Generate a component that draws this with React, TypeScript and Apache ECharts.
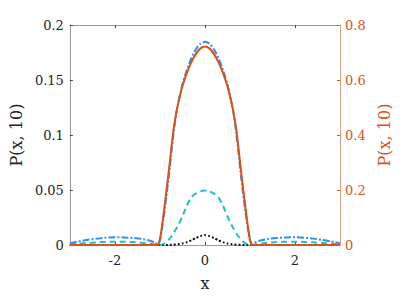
import React, { useEffect, useRef } from "react";
import * as echarts from "echarts";

const xs = [-3, -2.8, -2.6, -2.4, -2.2, -2, -1.8, -1.6, -1.4, -1.2, -1.1, -1.05, -1, -0.95, -0.9, -0.85, -0.8, -0.75, -0.7, -0.65, -0.6, -0.5, -0.4, -0.3, -0.2, -0.1, 0,
  0.1, 0.2, 0.3, 0.4, 0.5, 0.6, 0.65, 0.7, 0.75, 0.8, 0.85, 0.9, 0.95, 1, 1.05, 1.1, 1.2, 1.4, 1.6, 1.8, 2, 2.2, 2.4, 2.6, 2.8, 3];

// right axis, orange solid
const orangeVals = [0, 0, 0, 0, 0, 0, 0, 0, 0, 0, 0, 0, 0.02, 0.072, 0.137, 0.203, 0.272, 0.345, 0.415, 0.468, 0.51, 0.577, 0.626, 0.665, 0.695, 0.715, 0.722,
  0.715, 0.695, 0.665, 0.626, 0.577, 0.51, 0.468, 0.415, 0.345, 0.272, 0.203, 0.137, 0.072, 0.02, 0, 0, 0, 0, 0, 0, 0, 0, 0, 0, 0, 0];

// left axis, blue dash-dot
const blueVals = [0.0016, 0.0033, 0.0047, 0.0058, 0.0066, 0.007, 0.0069, 0.0064, 0.0055, 0.0037, 0.002, 0.0008, 0.004, 0.016, 0.03, 0.046, 0.063, 0.082, 0.101, 0.116, 0.128, 0.146, 0.1595, 0.17, 0.178, 0.183, 0.1847,
  0.183, 0.178, 0.17, 0.1595, 0.146, 0.128, 0.116, 0.101, 0.082, 0.063, 0.046, 0.03, 0.016, 0.004, 0.0008, 0.002, 0.0037, 0.0055, 0.0064, 0.0069, 0.007, 0.0066, 0.0058, 0.0047, 0.0033, 0.0016];

// left axis, cyan dashed
const cyanVals = [0.0006, 0.0012, 0.0018, 0.0024, 0.0028, 0.003, 0.003, 0.0027, 0.002, 0.001, 0.0005, 0.0003, 0.0002, 0.0006, 0.0015, 0.003, 0.005, 0.0075, 0.0105, 0.014, 0.0175, 0.026, 0.036, 0.0435, 0.0468, 0.0488, 0.0495,
  0.0488, 0.0468, 0.0435, 0.036, 0.026, 0.0175, 0.014, 0.0105, 0.0075, 0.005, 0.003, 0.0015, 0.0006, 0.0002, 0.0003, 0.0005, 0.001, 0.002, 0.0027, 0.003, 0.003, 0.0028, 0.0024, 0.0018, 0.0012, 0.0006];

// left axis, black dotted
const blackVals = [0, 0, 0, 0, 0, 0, 0, 0, 0, 0, 0, 0, 0, 0, 0, 0, 0.0001, 0.0002, 0.0003, 0.0005, 0.0007, 0.0014, 0.0026, 0.0043, 0.0064, 0.0081, 0.009,
  0.0081, 0.0064, 0.0043, 0.0026, 0.0014, 0.0007, 0.0005, 0.0003, 0.0002, 0.0001, 0, 0, 0, 0, 0, 0, 0, 0, 0, 0, 0, 0, 0, 0, 0, 0];

const xTicks = [-2, 0, 2];
const leftName = "P(x, 10)";
const rightName = "P(x, 10)";
const xName = "x";

const FONT = "DejaVu Serif";
const GRAY = "#9a9a9a";
const ORANGE = "#D95319";

const pairs = (vals: number[]) => xs.map((x, i) => [x, vals[i]]);

export default function App() {
  const ref = useRef<HTMLDivElement>(null);
  useEffect(() => {
    if (!ref.current) return;
    const chart = echarts.init(ref.current, null, { renderer: "svg" });
    chart.setOption({
      animation: false,
      backgroundColor: "#ffffff",
      grid: { left: 67, right: 67, top: 25, bottom: 49 },
      xAxis: [
        {
          type: "value",
          min: -3,
          max: 3,
          position: "bottom",
          name: xName,
          nameLocation: "middle",
          nameGap: 30,
          nameTextStyle: { fontFamily: FONT, fontSize: 16, color: "#222" },
          axisLine: { show: true, onZero: false, lineStyle: { color: GRAY, width: 1 } },
          axisTick: { show: true, inside: true, length: 3, customValues: xTicks, lineStyle: { color: "#444" } },
          axisLabel: { customValues: xTicks, fontFamily: FONT, fontSize: 13, color: "#222", margin: 9 },
          splitLine: { show: false },
        },
        {
          type: "value",
          min: -3,
          max: 3,
          position: "top",
          axisLine: { show: true, onZero: false, lineStyle: { color: GRAY, width: 1 } },
          axisTick: { show: true, inside: true, length: 3, customValues: xTicks, lineStyle: { color: "#444" } },
          axisLabel: { show: false },
          splitLine: { show: false },
        },
      ],
      yAxis: [
        {
          type: "value",
          min: 0,
          max: 0.2,
          interval: 0.05,
          position: "left",
          name: leftName,
          nameLocation: "middle",
          nameRotate: 90,
          nameGap: 40,
          nameTextStyle: { fontFamily: FONT, fontSize: 16, color: "#222" },
          axisLine: { show: true, onZero: false, lineStyle: { color: GRAY, width: 1 } },
          axisTick: { show: true, inside: true, length: 3, lineStyle: { color: "#444" } },
          axisLabel: { fontFamily: FONT, fontSize: 13, color: "#222", margin: 6 },
          splitLine: { show: false },
        },
        {
          type: "value",
          min: 0,
          max: 0.8,
          interval: 0.2,
          position: "right",
          name: rightName,
          nameLocation: "middle",
          nameRotate: 90,
          nameGap: 35,
          nameTextStyle: { fontFamily: FONT, fontSize: 16, color: ORANGE, verticalAlign: "top" },
          axisLine: { show: true, onZero: false, lineStyle: { color: "#e3a585", width: 1 } },
          axisTick: { show: true, inside: true, length: 3, lineStyle: { color: ORANGE } },
          axisLabel: { fontFamily: FONT, fontSize: 13, color: ORANGE, margin: 5 },
          splitLine: { show: false },
        },
      ],
      series: [
        {
          type: "line",
          data: pairs(blackVals),
          yAxisIndex: 0,
          showSymbol: false,
          smooth: 0.2,
          lineStyle: { color: "#111", width: 2, type: [2, 2] },
        },
        {
          type: "line",
          data: pairs(cyanVals),
          yAxisIndex: 0,
          showSymbol: false,
          smooth: 0.2,
          lineStyle: { color: "#17c3c8", width: 2, type: [6, 4] },
        },
        {
          type: "line",
          data: pairs(blueVals),
          yAxisIndex: 0,
          showSymbol: false,
          smooth: 0.2,
          lineStyle: { color: "#2f8ff5", width: 2, type: [7, 2, 2, 2] },
        },
        {
          type: "line",
          data: pairs(orangeVals),
          yAxisIndex: 1,
          showSymbol: false,
          smooth: 0.2,
          lineStyle: { color: ORANGE, width: 2 },
        },
      ],
    });
    return () => chart.dispose();
  }, []);
  return (
    <div
      ref={ref}
      style={{ position: "fixed", left: 0, top: 0, width: 407, height: 296 }}
    />
  );
}
